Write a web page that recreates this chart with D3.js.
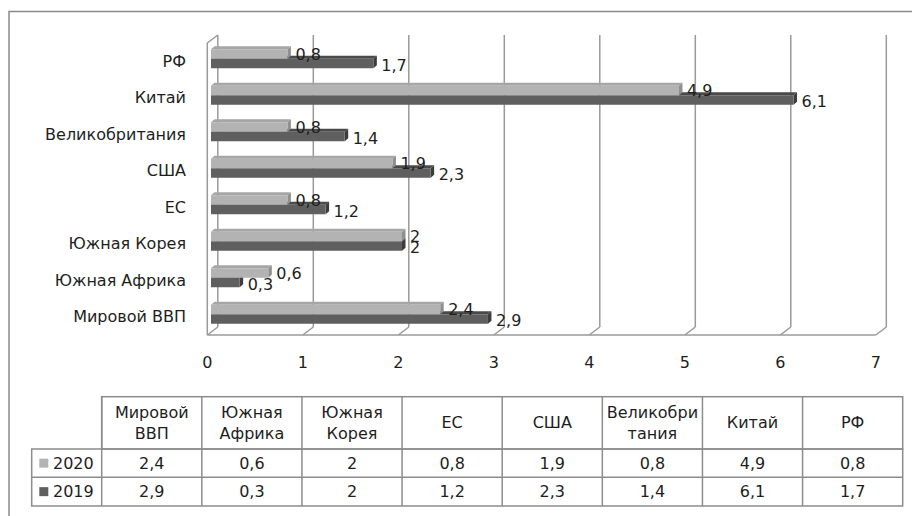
<!DOCTYPE html>
<html><head><meta charset="utf-8">
<script src="https://cdn.jsdelivr.net/npm/d3@7"></script>
<style>
html,body{margin:0;padding:0;background:#fff;}
svg{display:block;font-family:"DejaVu Sans",sans-serif;}
</style></head>
<body><svg id="c" width="912" height="516"></svg>
<script>
// ---- data ----
const categories = ["Мировой ВВП","Южная Африка","Южная Корея","ЕС","США","Великобритания","Китай","РФ"];
const headerLabels = [["Мировой","ВВП"],["Южная","Африка"],["Южная","Корея"],["ЕС"],["США"],["Великобри","тания"],["Китай"],["РФ"]];
const values2020 = [2.4,0.6,2,0.8,1.9,0.8,4.9,0.8];
const values2019 = [2.9,0.3,2,1.2,2.3,1.4,6.1,1.7];
const seriesNames = ["2020","2019"];
const xTicks = [0,1,2,3,4,5,6,7];

const fmt = v => String(v).replace(".", ",");
const LIGHT = "#b3b3b3", LIGHT_TOP = "#a6a6a6", LIGHT_SIDE = "#8f8f8f";
const DARK = "#5f5f5f", DARK_TOP = "#4a4a4a", DARK_SIDE = "#3c3c3c";
const GRID = "#9a9a9a", TXT = "#1e1e1e";
const FS = 16;

const svg = d3.select("#c");

// outer border
svg.append("rect").attr("x",9).attr("y",11.5).attr("width",920).attr("height",520)
  .attr("fill","none").attr("stroke","#8a8a8a").attr("stroke-width",1.5);

// scales
const depthX = 10.5, depthY = -8;
const xFront = d3.scaleLinear().domain([0,7]).range([207.3, 207.3 + 7*95.5]);
const xBack = v => xFront(v) + depthX;
const xBar = d3.scaleLinear().domain([0,7]).range([211, 211 + 7*95.5]);
const y = d3.scaleBand().domain(categories).range([335, 43]);
const yTop = 43, yBot = 335;

const g = svg.append("g");
// back wall gridlines
g.selectAll("line.grid").data(xTicks).join("line")
  .attr("x1", d => xBack(d)).attr("x2", d => xBack(d))
  .attr("y1", yTop + depthY).attr("y2", yBot + depthY)
  .attr("stroke", GRID).attr("stroke-width", 1.5);
// floor diagonals
g.selectAll("line.floor").data(xTicks).join("line")
  .attr("x1", d => xBack(d)).attr("x2", d => xFront(d))
  .attr("y1", yBot + depthY).attr("y2", yBot)
  .attr("stroke", GRID).attr("stroke-width", 1.5);
// floor front edge
g.append("line").attr("x1", xFront(0)).attr("x2", xFront(7)).attr("y1", yBot).attr("y2", yBot)
  .attr("stroke", GRID).attr("stroke-width", 1.5);
// left side wall front edge + top
g.append("path")
  .attr("d", `M${xFront(0)},${yBot} L${xFront(0)},${yTop} L${xBack(0)},${yTop+depthY}`)
  .attr("fill","none").attr("stroke", GRID).attr("stroke-width", 1.5);

// bars
const bdx = 3.5, bdy = -3;
function bar3d(sel, x0, x1, yy, h, front, top, side){
  sel.append("path").attr("d", `M${x0},${yy} L${x0+bdx},${yy+bdy} L${x1+bdx},${yy+bdy} L${x1},${yy} Z`).attr("fill", top);
  sel.append("path").attr("d", `M${x1},${yy} L${x1+bdx},${yy+bdy} L${x1+bdx},${yy+h+bdy} L${x1},${yy+h} Z`).attr("fill", side);
  sel.append("rect").attr("x", x0).attr("y", yy).attr("width", x1 - x0).attr("height", h).attr("fill", front);
}
const bars = svg.append("g");
categories.forEach((c, i) => {
  const cy = y(c) + y.bandwidth()/2;
  bar3d(bars, xBar(0), xBar(values2019[i]), cy - 2.5, 9.5, DARK, DARK_TOP, DARK_SIDE);
  bar3d(bars, xBar(0), xBar(values2020[i]), cy - 12, 9.5, LIGHT, LIGHT_TOP, LIGHT_SIDE);
});
// value labels
const labs = svg.append("g").attr("font-size", FS).attr("fill", TXT);
categories.forEach((c, i) => {
  const cy = y(c) + y.bandwidth()/2;
  labs.append("text").attr("x", xBar(values2020[i]) + 8).attr("y", cy - 7).attr("dy","0.35em").text(fmt(values2020[i]));
  labs.append("text").attr("x", xBar(values2019[i]) + 8).attr("y", cy + 4).attr("dy","0.35em").text(fmt(values2019[i]));
});

// category axis labels
svg.append("g").attr("font-size", FS).attr("fill", TXT).attr("text-anchor","end")
  .selectAll("text").data(categories).join("text")
  .attr("x", 186).attr("y", d => y(d) + y.bandwidth()/2).attr("dy","0.35em").text(d => d);

// x tick labels
svg.append("g").attr("font-size", FS).attr("fill", TXT).attr("text-anchor","middle")
  .selectAll("text").data(xTicks).join("text")
  .attr("x", d => xFront(d)).attr("y", 362.7).attr("dy","0.35em").text(d => d);

// data table
const colX = d3.scaleBand().domain(categories).range([101.7, 902.7]);
const tb = svg.append("g");
const rowY = [396.7, 449, 477.3, 506];
const TB = "#8c8c8c";
tb.append("rect").attr("x", 101.7).attr("y", rowY[0]).attr("width", 801).attr("height", rowY[1]-rowY[0])
  .attr("fill","none").attr("stroke",TB).attr("stroke-width",1.5);
tb.append("rect").attr("x", 31.7).attr("y", rowY[1]).attr("width", 871).attr("height", rowY[3]-rowY[1])
  .attr("fill","none").attr("stroke",TB).attr("stroke-width",1.5);
tb.append("line").attr("x1",31.7).attr("x2",902.7).attr("y1",rowY[2]).attr("y2",rowY[2]).attr("stroke",TB).attr("stroke-width",1.5);
tb.append("line").attr("x1",101.7).attr("x2",101.7).attr("y1",rowY[0]).attr("y2",rowY[3]).attr("stroke",TB).attr("stroke-width",1.5);
tb.selectAll("line.col").data(categories.slice(1)).join("line")
  .attr("x1", d => colX(d)).attr("x2", d => colX(d)).attr("y1", rowY[0]).attr("y2", rowY[3])
  .attr("stroke",TB).attr("stroke-width",1.5);
// header texts
const ht = tb.append("g").attr("font-size", FS).attr("fill", TXT).attr("text-anchor","middle");
categories.forEach((c, i) => {
  const lines = headerLabels[i];
  const cx = colX(c) + colX.bandwidth()/2;
  const mid = (rowY[0] + rowY[1]) / 2;
  lines.forEach((ln, k) => {
    const yy = lines.length === 1 ? mid : mid + (k - 0.5) * 21.6;
    ht.append("text").attr("x", cx).attr("y", yy).attr("dy","0.35em").text(ln);
  });
});
// value rows
const rows = [values2020, values2019];
const colors = [LIGHT, DARK];
rows.forEach((vals, r) => {
  const cyR = (rowY[r+1] + rowY[r+2]) / 2;
  tb.append("rect").attr("x", 39.3).attr("y", cyR - 4.5).attr("width", 9).attr("height", 9).attr("fill", colors[r]);
  tb.append("text").attr("x", 53).attr("y", cyR).attr("dy","0.35em").attr("font-size", FS).attr("fill", TXT).text(seriesNames[r]);
  categories.forEach((c, i) => {
    tb.append("text").attr("x", colX(c) + colX.bandwidth()/2).attr("y", cyR).attr("dy","0.35em")
      .attr("font-size", FS).attr("fill", TXT).attr("text-anchor","middle").text(fmt(vals[i]));
  });
});
</script></body></html>
